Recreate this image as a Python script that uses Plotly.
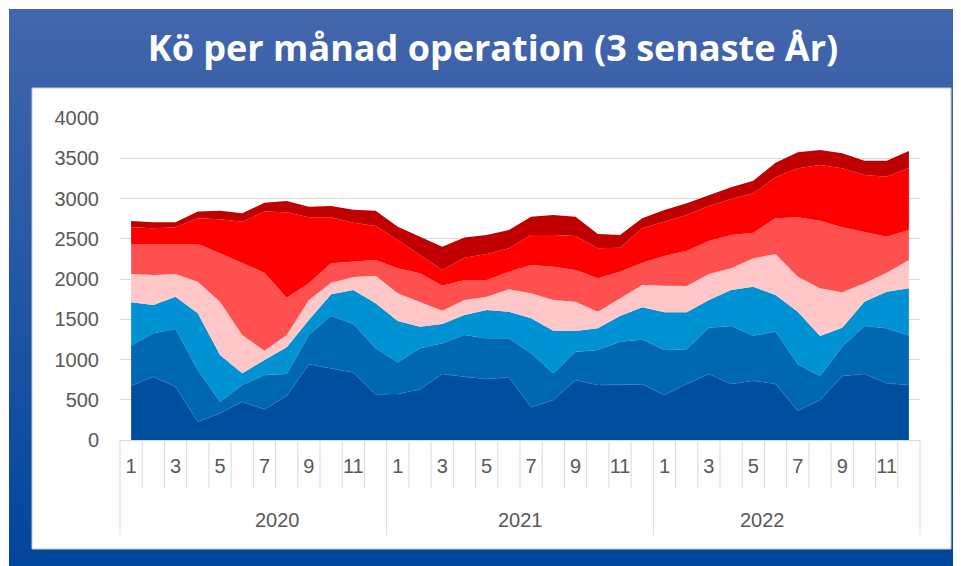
import struct, zlib, base64
import plotly.graph_objects as go

# ---------------- data ----------------
years = [2020] * 12 + [2021] * 12 + [2022] * 12
months = list(range(1, 13)) * 3
year_labels = ["2020", "2021", "2022"]

s1 = [675, 787, 663, 228, 331, 476, 381, 547, 940, 890, 840, 567,
      571, 629, 820, 787, 758, 778, 406, 497, 745, 683, 683, 691,
      559, 696, 820, 696, 737, 696, 364, 497, 795, 820, 704, 683]
s2 = [497, 538, 716, 642, 145, 207, 426, 273, 364, 655, 601, 572,
      394, 510, 381, 517, 505, 485, 671, 331, 352, 435, 538, 559,
      559, 430, 575, 720, 559, 650, 576, 298, 364, 596, 683, 613]
s3 = [538, 352, 401, 704, 580, 145, 187, 331, 187, 265, 422, 559,
      513, 269, 240, 249, 352, 331, 434, 530, 257, 269, 319, 398,
      468, 460, 344, 447, 609, 455, 654, 497, 236, 302, 455, 588]
s4 = [352, 373, 282, 393, 662, 476, 116, 153, 248, 144, 162, 343,
      344, 310, 166, 186, 166, 278, 311, 381, 364, 207, 220, 277,
      331, 327, 323, 270, 352, 510, 435, 592, 439, 228, 237, 352]
s5 = [373, 385, 373, 468, 601, 891, 969, 464, 207, 241, 190, 195,
      311, 352, 310, 249, 207, 219, 352, 414, 394, 414, 331, 278,
      369, 439, 410, 414, 319, 443, 737, 841, 808, 634, 447, 373]
s6 = [207, 195, 207, 319, 422, 517, 758, 1061, 820, 571, 485, 423,
      352, 228, 195, 277, 323, 290, 373, 394, 422, 373, 298, 427,
      426, 443, 435, 447, 488, 509, 609, 691, 733, 712, 745, 774]
s7 = [79, 74, 62, 83, 108, 104, 111, 140, 133, 141, 160, 190,
      165, 228, 290, 249, 236, 228, 227, 248, 240, 178, 158, 124,
      145, 145, 137, 145, 158, 182, 199, 187, 186, 178, 199, 207]

series = [s1, s2, s3, s4, s5, s6, s7]
colors = ["#004f9e", "#0067b1", "#0092d2", "#ffc7c7", "#ff5050", "#ff0000", "#c00000"]
edge_colors = ["#3576bb", "#2a86c6", None, None, None, None, None]

# ---------------- geometry (page px, page has 8px body margin) ----------------
OFF = 8
W, H = 961 - OFF, 566 - OFF
PL, PR, PT, PB = 120, 920, 118, 440          # plot area in page px
ML, MT = PL - OFF, PT - OFF
MR, MB = W - (PR - OFF), H - (PB - OFF)
PW, PH = PR - PL, PB - PT
n = len(months)
x = list(range(n))


def px_x(p):
    return (p - PL) / PW


def px_y(p):
    return (PB - p) / PH


fig = go.Figure()
for i, (s, c, ec) in enumerate(zip(series, colors, edge_colors)):
    line = dict(width=0, color=c) if ec is None else dict(width=0.8, color=ec, dash="dash")
    fig.add_trace(go.Scatter(
        x=x, y=s, mode="lines", stackgroup="one", name=f"Serie {i+1}",
        line=line, fillcolor=c, showlegend=False,
        hovertemplate="%{y}<extra></extra>"))


# gradient background as PNG
def grad_png(h, stops):
    def col(t):
        for (t0, c0), (t1, c1) in zip(stops[:-1], stops[1:]):
            if t <= t1:
                f = (t - t0) / (t1 - t0) if t1 > t0 else 0
                return [round(a + (b - a) * f) for a, b in zip(c0, c1)]
        return list(stops[-1][1])
    w = 4
    raw = b"".join(b"\x00" + bytes(col(r / (h - 1))) * w for r in range(h))

    def chunk(tag, data):
        return struct.pack(">I", len(data)) + tag + data + struct.pack(">I", zlib.crc32(tag + data) & 0xffffffff)
    png = b"\x89PNG\r\n\x1a\n" + chunk(b"IHDR", struct.pack(">IIBBBBB", w, h, 8, 2, 0, 0, 0)) \
        + chunk(b"IDAT", zlib.compress(raw)) + chunk(b"IEND", b"")
    return "data:image/png;base64," + base64.b64encode(png).decode()


bx0, by0 = 9, 9
img = grad_png(200, [(0, (68, 102, 172)), (0.45, (38, 88, 166)), (1, (0, 70, 156))])
fig.add_layout_image(dict(source=img, xref="paper", yref="paper",
                          x=px_x(bx0), y=px_y(by0),
                          sizex=(961 + 2 - bx0) / PW, sizey=(566 + 2 - by0) / PH,
                          xanchor="left", yanchor="top", sizing="stretch", layer="below"))

shapes = []
# white panel
shapes.append(dict(type="rect", xref="paper", yref="paper",
                   x0=px_x(32), x1=px_x(951), y0=px_y(549), y1=px_y(88),
                   fillcolor="white", line=dict(color="#c9c9c9", width=1), layer="below"))
# category dividers
for k in range(n + 1):
    is_year = (k % 12 == 0)
    shapes.append(dict(type="line", xref="paper", yref="paper",
                       x0=k / n, x1=k / n, y0=0, y1=px_y(535 if is_year else 488),
                       line=dict(color="#d9d9d9", width=1)))
fig.update_layout(shapes=shapes)

# year labels
for yl in year_labels:
    idx = [i for i, yy in enumerate(years) if str(yy) == yl]
    mid = (idx[0] + idx[-1] + 1) / 2
    fig.add_annotation(x=mid / n, y=px_y(520), xref="paper", yref="paper", text=yl,
                       showarrow=False, font=dict(family="Liberation Sans", size=20, color="#595959"),
                       yanchor="middle")

tickvals = [i for i, m in enumerate(months) if m % 2 == 1]
ticktext = [str(months[i]) for i in tickvals]

fig.update_layout(
    width=W, height=H,
    margin=dict(l=ML, r=MR, t=MT, b=MB, pad=0),
    paper_bgcolor="white", plot_bgcolor="white",
    title=dict(text="<b>Kö per månad operation (3 senaste År)</b>", x=(493 - OFF) / W, xref="container",
               y=1 - (48 - OFF) / H, yref="container", xanchor="center", yanchor="middle",
               font=dict(family="Open Sans", size=36, color="white")),
    xaxis=dict(range=[-0.5, n - 0.5], tickvals=tickvals, ticktext=ticktext, showgrid=False,
               zeroline=False, showline=True, linecolor="#d9d9d9", linewidth=1, ticks="",
               ticklabelstandoff=8,
               tickfont=dict(family="Liberation Sans", size=20, color="#595959")),
    yaxis=dict(range=[0, 4000], dtick=500, showgrid=True, gridcolor="#d9d9d9", gridwidth=1,
               zeroline=False, showline=False, ticks="", ticklabelstandoff=20,
               tickfont=dict(family="Liberation Sans", size=20, color="#595959")),
)

fig.write_html("out.html")
